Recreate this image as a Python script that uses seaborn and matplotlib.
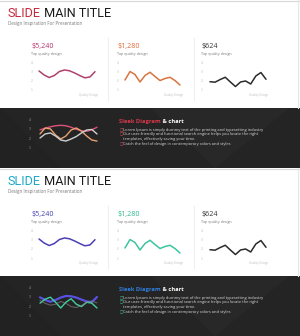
import matplotlib
matplotlib.use("Agg")
import matplotlib.pyplot as plt
import seaborn as sns
import pandas as pd
from matplotlib import font_manager
from matplotlib.patches import Rectangle, Polygon
from matplotlib.lines import Line2D

# ---------------- data ----------------
TITLE_ACCENT = "SLIDE"
TITLE_REST = " MAIN TITLE"
SUBTITLE = "Design Inspiration For Presentation"
PANEL_VALUES = ["$5,240", "$1,280", "$624"]
PANEL_CAPTION = "Top quality design"
AXIS_NOTE = "Quality Design"
Y_TICKS = [1, 2, 3, 4]
Y_TICK_LABELS = ["1", "2", "3", "4"]

series_a = [3.09, 2.65, 2.37, 2.59, 3.03, 3.20, 3.11, 2.87, 2.59, 2.34, 2.43, 3.01]
series_b = [2.10, 3.03, 2.70, 1.88, 2.59, 2.95, 2.48, 2.04, 2.26, 2.40, 2.04, 1.55]
series_c = [1.91, 1.86, 2.15, 2.40, 1.88, 1.38, 1.88, 1.99, 1.66, 2.54, 2.92, 2.18]

dark1_pink = [2.90, 3.07, 3.23, 3.34, 3.39, 3.34, 3.18, 2.96, 2.79, 2.74, 2.90, 3.18]
dark1_orange = [2.45, 3.10, 3.00, 2.34, 1.90, 2.23, 2.88, 3.10, 2.77, 2.23, 1.79, 1.68]
dark1_white = [2.01, 2.45, 2.56, 2.23, 1.79, 1.68, 1.90, 2.17, 2.56, 2.88, 2.94, 2.45]

dark2_blue = [2.95, 2.66, 2.47, 2.66, 2.93, 3.10, 3.07, 2.93, 2.71, 2.50, 2.44, 2.99]
dark2_green = [2.32, 2.75, 2.97, 2.42, 1.79, 2.42, 2.80, 2.21, 1.95, 2.42, 2.32, 1.79]
dark2_grey = [2.60, 2.30, 2.10, 2.20, 2.50, 2.30, 1.95, 1.85, 2.05, 2.40, 2.55, 2.35]

DARK_TITLE_ACCENT = "Sleek Diagram"
DARK_TITLE_REST = " & chart"
BULLETS = [
    ("Lorem Ipsum is simply dummy text of the printing and typesetting industry", True),
    ("Our user-friendly and functional search engine helps you locate the right", True),
    ("templates, effectively saving your time.", False),
    ("Catch the feel of design in contemporary colors and styles", True),
]

THEMES = [
    dict(accent="#c8283c", values=["#b5306a", "#e06a36", "#333333"],
         lines=["#b0406e", "#d9743e", "#2b2b2b"], dark_accent="#d8384a",
         bullet="#d84a5a", dark_lines=["#e0507a", "#e8a070", "#d0d0d0"],
         dark_widths=[1.0, 1.0, 1.0], dark_alpha=[1, 1, 1]),
    dict(accent="#1fa8c8", values=["#4040b0", "#2fb890", "#333333"],
         lines=["#4a3fb5", "#3cc4a0", "#2b2b2b"], dark_accent="#2f7fe0",
         bullet="#3cc4a0", dark_lines=["#5a50e0", "#40d0a0", "#8a8a8a"],
         dark_widths=[1.6, 1.0, 0.8], dark_alpha=[1, 1, 0.6]),
]

# ---------------- setup ----------------
W, H = 300, 336
fig = plt.figure(figsize=(3.0, 3.36), dpi=100)
fig.patch.set_facecolor("white")

names = {f.name for f in font_manager.fontManager.ttflist}
TITLE_FONT = "Liberation Sans Narrow" if "Liberation Sans Narrow" in names else "Roboto"
BODY_FONT = "Open Sans" if "Open Sans" in names else "DejaVu Sans"


def fx(x):
    return x / W


def fy(y):
    return 1 - y / H


def pt(px):
    return px * 0.72


renderer = fig.canvas.get_renderer()


def text_pieces(x, y, pieces, size, family, weight="normal", va="baseline"):
    cur = x
    for s, c in pieces:
        t = fig.text(fx(cur), fy(y), s, color=c, fontsize=size, family=family,
                     weight=weight, va=va, ha="left", parse_math=False)
        bb = t.get_window_extent(renderer)
        cur += bb.width


def mini_axes(x0, x1, ytop, ybot, pad_px, tick_color):
    ax = fig.add_axes([fx(x0), fy(ybot), (x1 - x0) / W, (ybot - ytop) / H])
    ax.set_facecolor("none")
    ax.set_zorder(2)
    for s in ax.spines.values():
        s.set_visible(False)
    ax.set_xticks([])
    ax.set_yticks(Y_TICKS)
    ax.set_yticklabels(Y_TICK_LABELS)
    ax.tick_params(axis="y", length=0, pad=pt(pad_px), labelsize=2.2,
                   labelcolor=tick_color)
    return ax


def draw_line(ax, values, color, lw, alpha=1.0):
    df = pd.DataFrame({"x": range(len(values)), "y": values})
    sns.lineplot(data=df, x="x", y="y", ax=ax, color=color, linewidth=lw,
                 alpha=alpha, legend=False)
    ax.set_xlim(0, len(values) - 1)
    ax.set_ylim(1, 4)
    ax.set_xlabel("")
    ax.set_ylabel("")
    for ln in ax.lines:
        ln.set_clip_on(False)
        ln.set_solid_capstyle("round")
        ln.set_solid_joinstyle("round")


panel_series = [series_a, series_b, series_c]
dark_series = [[dark1_pink, dark1_orange, dark1_white],
               [dark2_blue, dark2_green, dark2_grey]]

panel_x = [31, 117, 201]
line_x = [(39, 95), (125, 180), (210, 266)]
note_x = [98, 183, 268]

for k, th in enumerate(THEMES):
    o = 168 * k
    # dark band
    fig.patches.append(Rectangle((0, fy(o + 168)), 1, 60 / H, transform=fig.transFigure,
                                 facecolor="#242424", edgecolor="none", zorder=-3))
    # faint texture facets
    fig.patches.append(Polygon([(fx(150), fy(o + 108)), (fx(215), fy(o + 168)),
                                (fx(290), fy(o + 108))], closed=True,
                               transform=fig.transFigure, facecolor="#282828",
                               edgecolor="none", zorder=-2))
    fig.patches.append(Polygon([(fx(0), fy(o + 108)), (fx(60), fy(o + 168)),
                                (fx(0), fy(o + 168))], closed=True,
                               transform=fig.transFigure, facecolor="#222222",
                               edgecolor="none", zorder=-2))
    # frame
    fig.lines.append(Line2D([0, 1], [fy(o + 0.5)] * 2, transform=fig.transFigure,
                            color="#d8d8d8", lw=0.8))
    fig.lines.append(Line2D([fx(297.5)] * 2, [fy(o + 108), fy(o)], transform=fig.transFigure,
                            color="#e6e6e6", lw=0.8))
    # title
    text_pieces(8, o + 17.3, [(TITLE_ACCENT, th["accent"]), (TITLE_REST, "#1a1a1a")],
                pt(12.6), TITLE_FONT)
    fig.text(fx(8), fy(o + 23.3), SUBTITLE, fontsize=pt(4.5), color="#777777",
             family=BODY_FONT, va="center", ha="left")
    # separators
    for sx in (108, 194):
        fig.lines.append(Line2D([fx(sx)] * 2, [fy(o + 100), fy(o + 38)],
                                transform=fig.transFigure, color="#efefef", lw=0.8))
    # panels
    for i in range(3):
        fig.text(fx(panel_x[i]), fy(o + 48.3), PANEL_VALUES[i], fontsize=pt(7.2),
                 color=th["values"][i], family=BODY_FONT, va="baseline", ha="left",
                 parse_math=False)
        fig.text(fx(panel_x[i]), fy(o + 54), PANEL_CAPTION, fontsize=pt(3.6),
                 color="#777777", family=BODY_FONT, va="center", ha="left")
        x0, x1 = line_x[i]
        ax = mini_axes(x0, x1, o + 62.7, o + 90, x0 - panel_x[i] - 1.5, "#bbbbbb")
        draw_line(ax, panel_series[i], th["lines"][i], 1.1)
        fig.text(fx(note_x[i]), fy(o + 95), AXIS_NOTE, fontsize=pt(2.9),
                 color="#c0c0c0", family=BODY_FONT, va="center", ha="right")
    # dark chart
    ax = mini_axes(40, 97, o + 119.7, o + 147.3, 9, "#9a9a9a")
    for s, c, lw, a in zip(dark_series[k], th["dark_lines"], th["dark_widths"],
                           th["dark_alpha"]):
        draw_line(ax, s, c, lw, a)
    # dark text
    text_pieces(119, o + 122.6, [(DARK_TITLE_ACCENT, th["dark_accent"]),
                                 (DARK_TITLE_REST, "#ffffff")],
                pt(5.8), BODY_FONT, weight="bold")
    ys = [130, 134.5, 139, 144.5]
    for (s, bul), yy in zip(BULLETS, ys):
        if bul:
            fig.text(fx(119.3), fy(o + yy), "\u25a1", fontsize=pt(3.6), color=th["bullet"],
                     family="DejaVu Sans", va="center", ha="left")
        fig.text(fx(123), fy(o + yy), s, fontsize=pt(3.95), color="#d8d8d8",
                 family=BODY_FONT, va="center", ha="left")

fig.savefig("out.png", dpi=100, facecolor=fig.get_facecolor())
